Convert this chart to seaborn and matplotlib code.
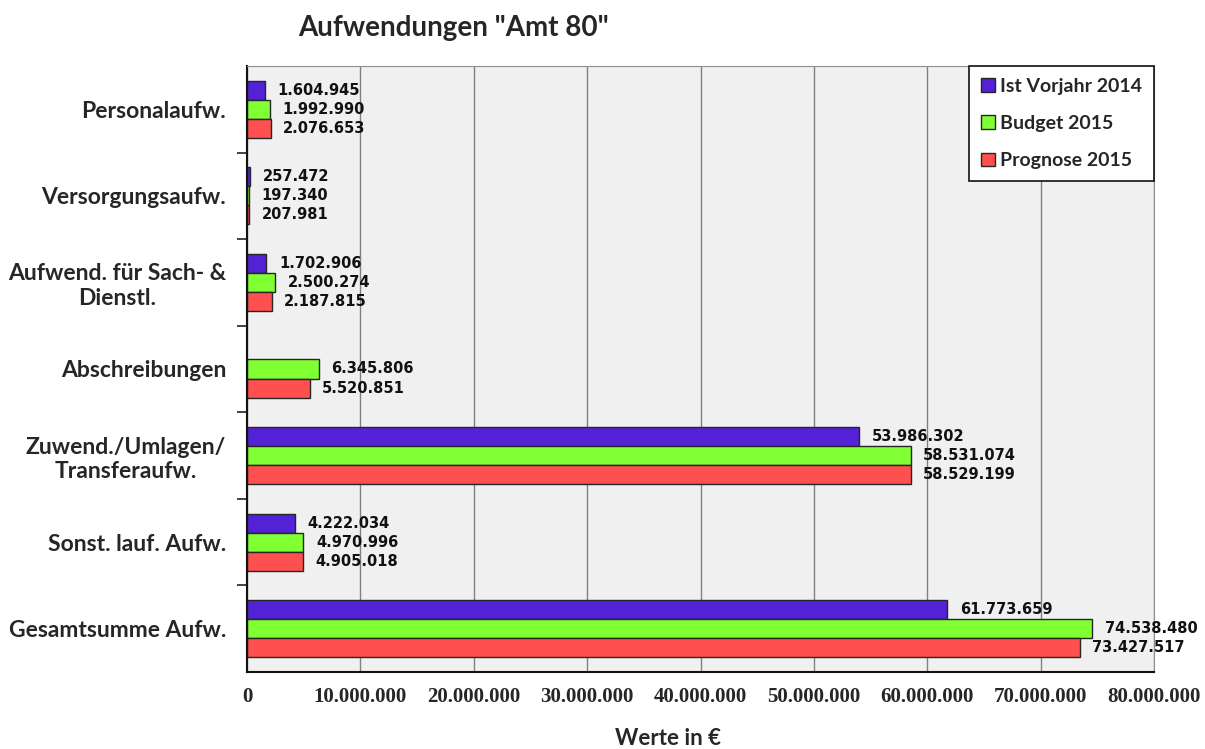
import numpy as np
import pandas as pd
import matplotlib
matplotlib.use('Agg')
import matplotlib.pyplot as plt
import seaborn as sns
from matplotlib.ticker import FuncFormatter, FixedLocator

categories = ['Personalaufw.', 'Versorgungsaufw.', 'Aufwend. für Sach- &\nDienstl.',
              'Abschreibungen', 'Zuwend./Umlagen/\nTransferaufw.', 'Sonst. lauf. Aufw.',
              'Gesamtsumme Aufw.']
series = ['Ist Vorjahr 2014', 'Budget 2015', 'Prognose 2015']
ist_2014 = [1604945, 257472, 1702906, np.nan, 53986302, 4222034, 61773659]
budget_2015 = [1992990, 197340, 2500274, 6345806, 58531074, 4970996, 74538480]
prognose_2015 = [2076653, 207981, 2187815, 5520851, 58529199, 4905018, 73427517]
colors = ['#5322d6', '#80ff33', '#ff5050']
x_ticks = [0, 10000000, 20000000, 30000000, 40000000, 50000000, 60000000, 70000000, 80000000]


def dotted(v):
    return f'{v:,.0f}'.replace(',', '.')


rows = []
for name, vals in zip(series, [ist_2014, budget_2015, prognose_2015]):
    for cat, v in zip(categories, vals):
        rows.append({'Kategorie': cat, 'Reihe': name, 'Wert': v})
df = pd.DataFrame(rows).dropna()

sns.set_style('white')
plt.rcParams['font.family'] = ['Lato', 'DejaVu Sans']

fig = plt.figure(figsize=(12.05, 7.49), dpi=100)
ax = fig.add_axes([0.205, 0.1028, 0.7527, 0.8091])
ax.set_facecolor('#f0f0f0')

sns.barplot(data=df, y='Kategorie', x='Wert', hue='Reihe', order=categories,
            hue_order=series, palette=colors, orient='h', width=0.66,
            edgecolor='#262626', linewidth=1, saturation=1, ax=ax)

for cont in ax.containers:
    ax.bar_label(cont, fmt=dotted, padding=9, fontsize=10.5, fontweight='bold',
                 family='DejaVu Sans', color='#111111')

ax.set_xlim(0, 80000000)
ax.set_ylim(len(categories) - 0.5, -0.5)
ax.xaxis.set_major_locator(FixedLocator(x_ticks))
ax.xaxis.set_major_formatter(FuncFormatter(lambda v, p: dotted(v)))
ax.grid(axis='x', color='#808080', linewidth=1)
ax.set_axisbelow(True)
for lab in ax.get_xticklabels():
    lab.set_family('Liberation Serif')
    lab.set_fontweight('bold')
    lab.set_fontsize(15)
ax.tick_params(axis='x', length=0, pad=11)

ax.yaxis.set_minor_locator(FixedLocator(np.arange(0.5, len(categories) - 1, 1)))
ax.tick_params(axis='y', which='major', length=0, pad=15)
ax.tick_params(axis='y', which='minor', length=7, width=1.2, color='#222222', direction='out', left=True)
for lab in ax.get_yticklabels():
    lab.set_fontsize(16.5)
    lab.set_fontweight('bold')
    lab.set_multialignment('center')

ax.set_xlabel('')
ax.set_ylabel('')
ax.spines['left'].set_color('#111111')
ax.spines['left'].set_linewidth(1.5)
ax.spines['bottom'].set_color('#111111')
ax.spines['bottom'].set_linewidth(1.5)
ax.spines['top'].set_color('#909090')
ax.spines['right'].set_color('#909090')

sns.move_legend(ax, 'upper right', bbox_to_anchor=(1.0, 1.0), title=None, frameon=True,
                fancybox=False, edgecolor='#111111', framealpha=1, fontsize=14,
                handlelength=0.7, handleheight=0.7, handletextpad=0.3,
                labelspacing=1.05, borderpad=0.6, borderaxespad=0)
leg = ax.get_legend()
leg.get_frame().set_linewidth(1.2)
for t in leg.get_texts():
    t.set_fontweight('bold')

fig.text(0.376, 0.962, 'Aufwendungen "Amt 80"', ha='center', va='center',
         fontsize=20, fontweight='bold')
fig.text(0.554, 0.014, 'Werte in €', ha='center', va='center',
         fontsize=16, fontweight='bold')

fig.savefig('out.png', dpi=100, facecolor='white')
